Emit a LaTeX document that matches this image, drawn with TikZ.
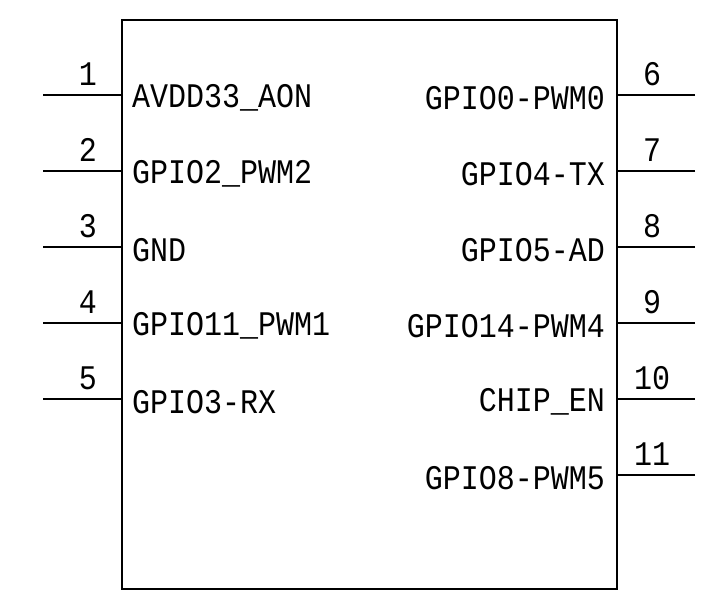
\documentclass[tikz,border=0pt]{standalone}
\usepackage{fontspec}
\setmainfont{Liberation Mono}
\begin{document}
\begin{tikzpicture}[x=1pt,y=-1pt,line width=2.2pt,
  lbl/.style={font=\fontsize{30}{30}\selectfont,inner sep=0pt,yscale=1.15},
  num/.style={font=\fontsize{30}{30}\selectfont,inner sep=0pt,yscale=1.15}]
\useasboundingbox (0,0) rectangle (717,599);
\node[draw,line width=2.2pt,minimum width=495pt,minimum height=569pt,inner sep=0pt,anchor=north west] (chip) at (121,19) {};
\foreach \n/\y/\t in {1/95/AVDD33\_AON,2/171/GPIO2\_PWM2,3/247/GND,4/323/GPIO11\_PWM1,5/399/GPIO3-RX}{
  \coordinate (L\n) at (43,\y);
  \draw (L\n) -- (chip.west |- L\n);
  \node[num] (nL\n) at (88,\y-21) {\n};
  \node[lbl,anchor=west] (tL\n) at (131,\y+3) {\t};
}
\foreach \n/\y/\t in {6/95/GPIO0-PWM0,7/171/GPIO4-TX,8/247/GPIO5-AD,9/323/GPIO14-PWM4,10/399/CHIP\_EN,11/475/GPIO8-PWM5}{
  \coordinate (R\n) at (695,\y);
  \draw (R\n) -- (chip.east |- R\n);
  \node[num] (nR\n) at (652,\y-21) {\n};
  \node[lbl,anchor=east] (tR\n) at (606,\y+3) {\t};
}
\end{tikzpicture}
\end{document}
